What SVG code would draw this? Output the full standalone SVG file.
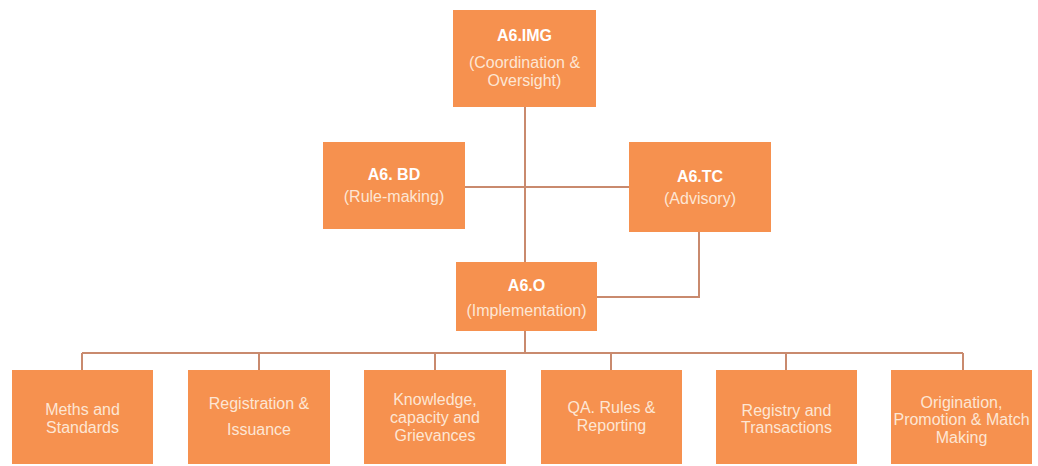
<svg xmlns="http://www.w3.org/2000/svg" width="1038" height="466" viewBox="0 0 1038 466">
<style>
.box{fill:#F6914F;}
.t{font-family:"Liberation Sans",Arial,sans-serif;font-size:16px;fill:#FFFFFF;font-weight:bold;text-anchor:middle;}
.s{font-family:"Liberation Sans",Arial,sans-serif;font-size:16px;fill:#FDE6D4;text-anchor:middle;}
.c{fill:none;stroke:#C98A6E;stroke-width:2;}
</style>
<rect width="1038" height="466" fill="#FFFFFF"/>
<g id="connectors">
<path class="c" d="M525 107 V262"/>
<path class="c" d="M465 187 H629"/>
<path class="c" d="M699 232 V297 H597"/>
<path class="c" d="M525 331 V353"/>
<path class="c" d="M82 353 H963"/>
<path class="c" d="M82 353 V370 M259 353 V370 M435 353 V370 M611 353 V370 M786 353 V370 M963 353 V370"/>
</g>
<g id="img">
<rect class="box" x="453" y="10" width="143" height="97"/>
<text class="t" x="524.5" y="41">A6.IMG</text>
<text class="s" x="524.5" y="68">(Coordination &amp;</text>
<text class="s" x="524.5" y="86">Oversight)</text>
</g>
<g id="bd">
<rect class="box" x="323" y="142" width="142" height="87"/>
<text class="t" x="394" y="180">A6. BD</text>
<text class="s" x="394" y="202">(Rule-making)</text>
</g>
<g id="tc">
<rect class="box" x="629" y="142" width="142" height="90"/>
<text class="t" x="700" y="182">A6.TC</text>
<text class="s" x="700" y="204">(Advisory)</text>
</g>
<g id="o">
<rect class="box" x="456" y="262" width="141" height="69"/>
<text class="t" x="526.5" y="291">A6.O</text>
<text class="s" x="526.5" y="316">(Implementation)</text>
</g>
<g id="b1">
<rect class="box" x="12" y="370" width="141" height="94"/>
<text class="s" x="82.5" y="415">Meths and</text>
<text class="s" x="82.5" y="433">Standards</text>
</g>
<g id="b2">
<rect class="box" x="188" y="370" width="142" height="94"/>
<text class="s" x="259" y="409">Registration &amp;</text>
<text class="s" x="259" y="435">Issuance</text>
</g>
<g id="b3">
<rect class="box" x="364" y="370" width="142" height="94"/>
<text class="s" x="435" y="405">Knowledge,</text>
<text class="s" x="435" y="423">capacity and</text>
<text class="s" x="435" y="441">Grievances</text>
</g>
<g id="b4">
<rect class="box" x="541" y="370" width="141" height="94"/>
<text class="s" x="611.5" y="413">QA. Rules &amp;</text>
<text class="s" x="611.5" y="431">Reporting</text>
</g>
<g id="b5">
<rect class="box" x="716" y="370" width="141" height="94"/>
<text class="s" x="786.5" y="416">Registry and</text>
<text class="s" x="786.5" y="433">Transactions</text>
</g>
<g id="b6">
<rect class="box" x="891" y="370" width="141" height="94"/>
<text class="s" x="961.5" y="408">Origination,</text>
<text class="s" x="961.5" y="425">Promotion &amp; Match</text>
<text class="s" x="961.5" y="443">Making</text>
</g>
</svg>
